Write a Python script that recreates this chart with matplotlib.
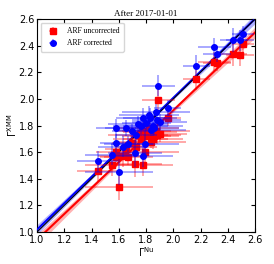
import numpy as np
import matplotlib.pyplot as plt

# photon index from NuSTAR (shared by both series)
gamma_nu = [1.445, 1.60, 1.58, 1.55, 1.67, 1.72, 1.78, 1.79, 1.73, 1.63,
            1.89, 1.96, 2.17, 2.30, 2.32, 2.44, 2.49, 2.51,
            1.80, 1.83, 1.85, 1.87, 1.88, 1.76, 1.70, 1.82, 1.90, 1.86,
            1.65, 1.78, 1.74, 1.84, 1.58]
err_nu = [0.15, 0.25, 0.12, 0.20, 0.18, 0.20, 0.22, 0.25, 0.15, 0.18,
          0.12, 0.10, 0.10, 0.12, 0.10, 0.10, 0.10, 0.08,
          0.18, 0.20, 0.22, 0.25, 0.18, 0.20, 0.15, 0.22, 0.20, 0.18,
          0.15, 0.20, 0.22, 0.25, 0.15]
gamma_unc = [1.46, 1.34, 1.56, 1.50, 1.56, 1.51, 1.50, 1.60, 1.64, 1.57,
             1.99, 1.86, 2.15, 2.28, 2.27, 2.34, 2.33, 2.41,
             1.72, 1.75, 1.70, 1.76, 1.73, 1.70, 1.67, 1.78, 1.74, 1.72,
             1.62, 1.76, 1.73, 1.68, 1.60]
err_unc = [0.08, 0.10, 0.07, 0.08, 0.06, 0.10, 0.08, 0.10, 0.06, 0.08,
           0.08, 0.06, 0.08, 0.07, 0.06, 0.09, 0.08, 0.06,
           0.06, 0.07, 0.08, 0.06, 0.07, 0.06, 0.05, 0.07, 0.06, 0.05,
           0.06, 0.07, 0.06, 0.05, 0.07]
gamma_cor = [1.53, 1.45, 1.67, 1.58, 1.66, 1.59, 1.57, 1.66, 1.73, 1.64,
             2.10, 1.93, 2.25, 2.39, 2.34, 2.44, 2.44, 2.49,
             1.82, 1.86, 1.80, 1.90, 1.84, 1.80, 1.76, 1.88, 1.83, 1.78,
             1.78, 1.86, 1.81, 1.77, 1.78]
err_cor = err_unc

# linear fits: y = a + b (x - pivot)
pivot = 1.8
fit_cor = dict(a=1.81, b=0.99, sa=0.008, sb=0.045)
fit_unc = dict(a=1.72, b=0.974, sa=0.010, sb=0.05)

fig = plt.figure(figsize=(2.74, 2.64), dpi=100)
ax = fig.add_axes([0.135, 0.121, 0.796, 0.807])

xx = np.linspace(1.0, 2.6, 100)
for fit, col in [(fit_unc, "red"), (fit_cor, "blue")]:
    yy = fit["a"] + fit["b"] * (xx - pivot)
    dy = np.sqrt(fit["sa"] ** 2 + (fit["sb"] * (xx - pivot)) ** 2)
    ax.fill_between(xx, yy - dy, yy + dy, color=col, alpha=0.3, lw=0, zorder=1)
    ax.plot(xx, yy, color=col, lw=1.5, zorder=3)
ax.plot(xx, xx, color="black", lw=0.8, zorder=4)

ax.errorbar(gamma_nu, gamma_unc, xerr=err_nu, yerr=err_unc, fmt="s", color="red",
            ms=4, ecolor=(1, 0, 0, 0.4), elinewidth=1.2, capsize=0, zorder=5,
            label="ARF uncorrected")
ax.errorbar(gamma_nu, gamma_cor, xerr=err_nu, yerr=err_cor, fmt="o", color="blue",
            ms=4, ecolor=(0, 0, 1, 0.4), elinewidth=1.2, capsize=0, zorder=6,
            label="ARF corrected")

ax.set_xlim(1.0, 2.6)
ax.set_ylim(1.0, 2.6)
ticks = np.arange(1.0, 2.61, 0.2)
ax.set_xticks(ticks)
ax.set_yticks(ticks)
ax.tick_params(direction="in", top=True, right=True, labelsize=7, length=3, pad=2)
ax.set_xlabel(r"$\Gamma^{\rm Nu}$", fontsize=7, labelpad=0)
ax.set_ylabel(r"$\Gamma^{\rm XMM}$", fontsize=7, labelpad=0)
ax.set_title("After 2017-01-01", fontsize=6.5, family="Liberation Serif", pad=2)
ax.legend(loc="upper left", prop={"family": "Liberation Serif", "size": 5.5},
          borderpad=0.6, handletextpad=0.8)

fig.savefig("out.png", dpi=100)
